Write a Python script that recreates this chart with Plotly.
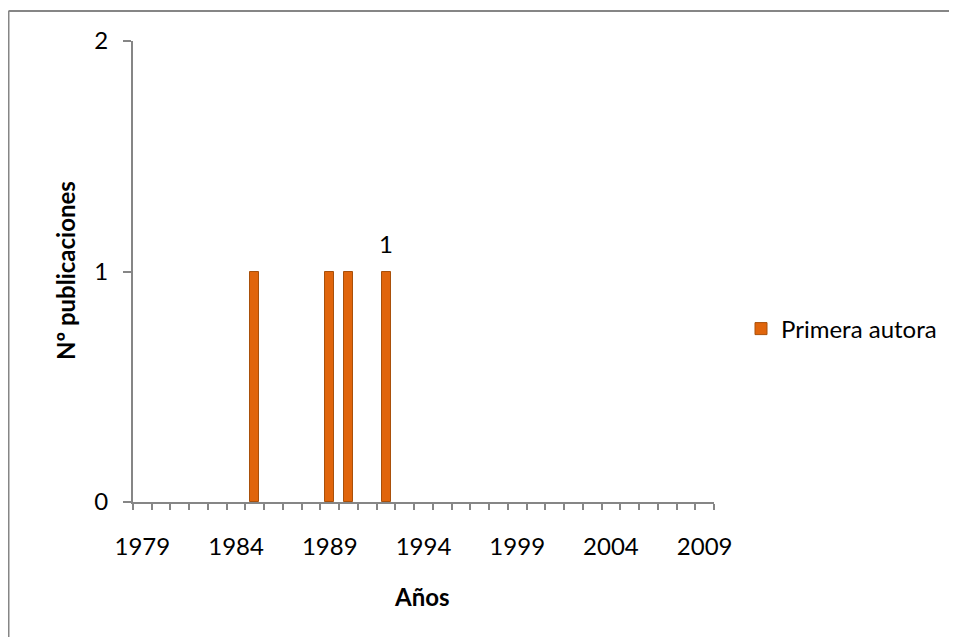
import plotly.graph_objects as go

# Data
years = [1985, 1989, 1990, 1992]
publicaciones = [1, 1, 1, 1]
bar_labels = ["", "", "", "1"]
series_name = "Primera autora"
x_tick_years = [1979, 1984, 1989, 1994, 1999, 2004, 2009]
x_tick_labels = [str(y) for y in x_tick_years]
y_ticks = [0, 1, 2]
x_title = "Años"
y_title = "Nº publicaciones"

FONT = "Lato, Carlito, 'Open Sans', sans-serif"
FS = 24
AXIS = "#868686"
OFF = 8  # page body margin
W, H = 957 - OFF, 637 - OFF
# plot area in window pixels
L, R, T, B = 133, 714, 41, 502
pw, ph = R - L, B - T


def px(x):
    return (x - L) / pw


def py(y):
    return (B - y) / ph


fig = go.Figure()
fig.add_trace(go.Bar(
    x=years, y=publicaciones, name=series_name,
    width=0.48,
    marker=dict(color="#E0650C", line=dict(color="#A9500A", width=1)),
    showlegend=True,
))

# data label
for xv, yv, t in zip(years, publicaciones, bar_labels):
    if t:
        fig.add_annotation(x=xv, y=yv, text=t, showarrow=False,
                           yanchor="bottom", yshift=12,
                           font=dict(family=FONT, size=FS, color="#000"))

# axis titles
fig.add_annotation(x=px(422), y=py(596), xref="paper", yref="paper", text=f"<b>{x_title}</b>",
                   xanchor="center", yanchor="middle",
                   showarrow=False, font=dict(family=FONT, size=FS, color="#000"))
fig.add_annotation(x=px(65), y=py(271), xref="paper", yref="paper", text=f"<b>{y_title}</b>",
                   xanchor="center", yanchor="middle",
                   showarrow=False, textangle=-90, font=dict(family=FONT, size=FS, color="#000"))

# outer frame (top and left edges visible)
fig.add_shape(type="line", xref="paper", yref="paper", x0=px(8.5), x1=px(970), y0=py(11), y1=py(11),
              line=dict(color=AXIS, width=2))
fig.add_shape(type="line", xref="paper", yref="paper", x0=px(8.5), x1=px(8.5), y0=py(11), y1=py(650),
              line=dict(color=AXIS, width=2))

fig.update_layout(
    width=W, height=H,
    margin=dict(l=L - OFF, r=957 - R, t=T - OFF, b=637 - B),
    paper_bgcolor="white", plot_bgcolor="white",
    font=dict(family=FONT, size=FS, color="#000"),
    legend=dict(x=px(741), y=py(329), xanchor="left", yanchor="middle",
                font=dict(family=FONT, size=FS, color="#000"), bgcolor="rgba(0,0,0,0)"),
    xaxis=dict(range=[1978.5, 2009.5], tickmode="array", tickvals=x_tick_years, ticktext=x_tick_labels,
               ticks="", showline=True, linecolor=AXIS, linewidth=2, showgrid=False, zeroline=False,
               ticklabelstandoff=22,
               minor=dict(ticks="outside", ticklen=6, tickcolor=AXIS, tickwidth=1.5,
                          tick0=1978.5, dtick=1, showgrid=False)),
    yaxis=dict(range=[0, 2], tickmode="array", tickvals=y_ticks, ticks="outside", ticklen=8,
               tickcolor=AXIS, tickwidth=1.5, showline=True, linecolor=AXIS, linewidth=2,
               showgrid=False, zeroline=False, ticklabelstandoff=10),
    bargap=0,
)

fig.write_html("out.html")
